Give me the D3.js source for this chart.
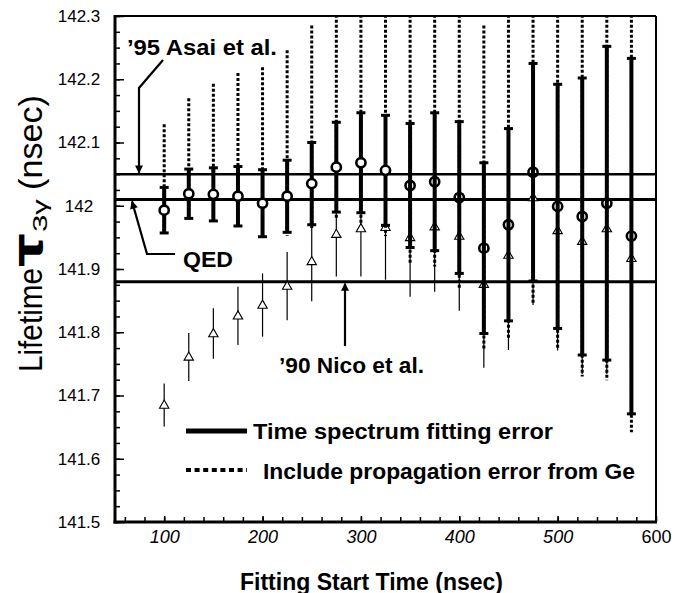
<!DOCTYPE html>
<html>
<head>
<meta charset="utf-8">
<script src="https://cdn.jsdelivr.net/npm/d3@7"></script>
<style>
  body { margin: 0; background: #fff; }
  text { font-family: "Liberation Sans", Arial, Helvetica, sans-serif; fill: #000; }
  .note { font-weight: bold; font-size: 22px; }
  .tick line { stroke: #000; stroke-width: 1.5px; }
  .domain { display: none; }
</style>
</head>
<body>
<svg width="689" height="593"></svg>
<script>
// fitting start times (nsec)
var starts = [100, 125, 150, 175, 200, 225, 250, 275, 300, 325, 350, 375, 400, 425, 450, 475, 500, 525, 550, 575];
// fitted lifetime (open circles) and time spectrum fitting error
var tau = [141.993, 142.019, 142.018, 142.015, 142.004, 142.015, 142.035, 142.061, 142.068, 142.056,
           142.032, 142.038, 142.013, 141.933, 141.970, 142.053, 141.999, 141.983, 142.004, 141.952];
var fitErr = [0.036, 0.039, 0.042, 0.047, 0.053, 0.057, 0.065, 0.071, 0.079, 0.087,
              0.098, 0.109, 0.120, 0.135, 0.152, 0.172, 0.193, 0.219, 0.248, 0.281];
// range including propagation error from Ge (dotted)
var geHigh = [142.129, 142.170, 142.193, 142.210, 142.219, 142.246, 142.285, 142.31, 142.31, 142.31,
              142.31, 142.31, 142.31, 142.285, 142.31, 142.31, 142.31, 142.31, 142.31, 142.31];
var geLow = [141.957, 141.980, 141.976, 141.968, 141.951, 141.952, 141.965, 141.978, 141.973, 141.952,
             141.910, 141.904, 141.867, 141.772, 141.789, 141.844, 141.773, 141.730, 141.724, 141.642];
// open triangles with thin error bars
var triVal = [141.685, 141.761, 141.798, 141.826, 141.843, 141.873, 141.912, 141.955, 141.964, 141.966,
              141.950, 141.967, 141.952, 141.876, 141.922, 142.013, 141.961, 141.944, 141.964, 141.917];
var triErr = [0.034, 0.038, 0.040, 0.046, 0.050, 0.054, 0.063, 0.067, 0.076, 0.083,
              0.094, 0.103, 0.118, 0.132, 0.150, 0.170, 0.190, 0.210, 0.230, 0.250];
// reference values: '95 Asai, QED, '90 Nico
var refValues = [142.05, 142.01, 141.88];
var xTickLabels = [100, 200, 300, 400, 500, 600];
var yTickLabels = [141.5, 141.6, 141.7, 141.8, 141.9, 142, 142.1, 142.2, 142.3];

var svg = d3.select('svg');
var pL = 115, pR = 656, pT = 16, pB = 522;

var x = d3.scaleLinear().domain([50, 600]).range([pL, pR]);
var y = d3.scaleLinear().domain([141.5, 142.3]).range([pB, pT]);

var data = starts.map(function (s, i) {
  return { start: s, tau: tau[i], fit: fitErr[i], hi: geHigh[i], lo: geLow[i],
           tri: triVal[i], triErr: triErr[i] };
});

var defs = svg.append('defs');
defs.append('clipPath').attr('id', 'plot')
  .append('rect').attr('x', pL).attr('y', pT)
  .attr('width', pR - pL).attr('height', pB - pT);
defs.append('marker').attr('id', 'arrow')
    .attr('viewBox', '0 0 10 10').attr('refX', 9).attr('refY', 5)
    .attr('markerWidth', 9).attr('markerHeight', 8)
    .attr('markerUnits', 'userSpaceOnUse').attr('orient', 'auto')
  .append('path').attr('d', 'M0,0L10,5L0,10Z').attr('fill', '#000');

// reference lines
svg.append('g').selectAll('line').data(refValues).enter().append('line')
    .attr('x1', pL).attr('x2', pR)
    .attr('y1', function (d) { return y(d); }).attr('y2', function (d) { return y(d); })
    .attr('stroke', '#000')
    .attr('stroke-width', function (d, i) { return i === 0 ? 2.5 : 3; });

var marks = svg.append('g').attr('clip-path', 'url(#plot)');

// triangles: thin bars then symbols
marks.selectAll('.tbar').data(data).enter().append('line')
    .attr('class', 'tbar')
    .attr('x1', function (d) { return x(d.start); }).attr('x2', function (d) { return x(d.start); })
    .attr('y1', function (d) { return y(d.tri + d.triErr); })
    .attr('y2', function (d) { return y(d.tri - d.triErr); })
    .attr('stroke', '#000').attr('stroke-width', 1.2);

var tri = d3.symbol().type(d3.symbolTriangle).size(38);
marks.selectAll('.tri').data(data).enter().append('path')
    .attr('class', 'tri')
    .attr('transform', function (d) { return 'translate(' + x(d.start) + ',' + (y(d.tri) + 0.5) + ')'; })
    .attr('d', tri)
    .attr('fill', '#fff').attr('stroke', '#000').attr('stroke-width', 1.1);

// dotted: including Ge propagation error
marks.selectAll('.gebar').data(data).enter().append('line')
    .attr('class', 'gebar')
    .attr('x1', function (d) { return x(d.start); }).attr('x2', function (d) { return x(d.start); })
    .attr('y1', function (d) { return y(d.hi); })
    .attr('y2', function (d) { return y(d.lo); })
    .attr('stroke', '#000').attr('stroke-width', 3).attr('stroke-dasharray', '3,2');

// solid: fitting error
marks.selectAll('.fbar').data(data).enter().append('line')
    .attr('class', 'fbar')
    .attr('x1', function (d) { return x(d.start); }).attr('x2', function (d) { return x(d.start); })
    .attr('y1', function (d) { return y(d.tau + d.fit); })
    .attr('y2', function (d) { return y(d.tau - d.fit); })
    .attr('stroke', '#000').attr('stroke-width', 4);

['hiCap', 'loCap'].forEach(function (k, j) {
  marks.selectAll('.' + k).data(data).enter().append('line')
      .attr('class', k)
      .attr('x1', function (d) { return x(d.start) - 4.5; })
      .attr('x2', function (d) { return x(d.start) + 4.5; })
      .attr('y1', function (d) { return y(j === 0 ? d.tau + d.fit : d.tau - d.fit); })
      .attr('y2', function (d) { return y(j === 0 ? d.tau + d.fit : d.tau - d.fit); })
      .attr('stroke', '#000').attr('stroke-width', 3);
});

marks.selectAll('.pt').data(data).enter().append('circle')
    .attr('class', 'pt')
    .attr('cx', function (d) { return x(d.start); })
    .attr('cy', function (d) { return y(d.tau); })
    .attr('r', 4.6)
    .attr('fill', function (d) { return d.start < 350 ? '#fff' : 'none'; })
    .attr('stroke', '#000').attr('stroke-width', 2.6);

// frame
svg.append('line').attr('x1', pL).attr('x2', pR).attr('y1', pT).attr('y2', pT)
   .attr('stroke', '#000').attr('stroke-width', 2);
svg.append('line').attr('x1', pR).attr('x2', pR).attr('y1', pT).attr('y2', pB)
   .attr('stroke', '#000').attr('stroke-width', 2);
svg.append('line').attr('x1', pL).attr('x2', pL).attr('y1', pT - 1).attr('y2', pB + 1.5)
   .attr('stroke', '#000').attr('stroke-width', 3);
svg.append('line').attr('x1', pL - 1.5).attr('x2', pR + 1).attr('y1', pB).attr('y2', pB)
   .attr('stroke', '#000').attr('stroke-width', 3);

// y axis
svg.append('g').attr('transform', 'translate(' + pL + ',0)')
  .call(d3.axisLeft(y).tickValues(d3.range(141.5, 142.3001, 0.025)).tickSize(-5).tickFormat(''));
var yAx = svg.append('g').attr('transform', 'translate(' + pL + ',0)')
  .call(d3.axisLeft(y).tickValues(yTickLabels).tickSize(-9).tickPadding(36)
        .tickFormat(function (d) { return String(d); }));
yAx.selectAll('text').attr('text-anchor', 'middle')
  .style('font-size', '17px').style('font-family', '"Liberation Sans", Arial, sans-serif');

// x axis
svg.append('g').attr('transform', 'translate(0,' + pB + ')')
  .call(d3.axisBottom(x).tickValues(d3.range(60, 600, 20)).tickSize(-5).tickFormat(''));
var xAx = svg.append('g').attr('transform', 'translate(0,' + pB + ')')
  .call(d3.axisBottom(x).tickValues(xTickLabels).tickSize(-6).tickPadding(8)
        .tickFormat(function (d) { return String(d); }));
xAx.selectAll('text')
  .style('font-size', '18px').style('font-family', '"Liberation Sans", Arial, sans-serif')
  .style('font-style', function (d) { return d < 600 ? 'italic' : 'normal'; });

// annotations
var ann = svg.append('g');
ann.append('text').attr('class', 'note').attr('x', 127).attr('y', 55)
   .attr('textLength', 150).attr('lengthAdjust', 'spacingAndGlyphs').text('\u201995 Asai et al.');
ann.append('path').attr('d', 'M163,60L139,88L139,' + (y(refValues[0]) - 1.5))
   .attr('fill', 'none').attr('stroke', '#000').attr('stroke-width', 2.2).attr('marker-end', 'url(#arrow)');

ann.append('text').attr('class', 'note').attr('x', 183).attr('y', 267)
   .attr('textLength', 50).attr('lengthAdjust', 'spacingAndGlyphs').text('QED');
ann.append('path').attr('d', 'M175,254L147,254L132,' + (y(refValues[1]) + 2))
   .attr('fill', 'none').attr('stroke', '#000').attr('stroke-width', 2.2).attr('marker-end', 'url(#arrow)');

ann.append('text').attr('class', 'note').attr('x', 279).attr('y', 373)
   .attr('textLength', 145).attr('lengthAdjust', 'spacingAndGlyphs').text('\u201990 Nico et al.');
ann.append('path').attr('d', 'M345,346L345,' + (y(refValues[2]) + 2))
   .attr('fill', 'none').attr('stroke', '#000').attr('stroke-width', 2.2).attr('marker-end', 'url(#arrow)');

// legend
ann.append('line').attr('x1', 186).attr('x2', 247).attr('y1', 431).attr('y2', 431)
   .attr('stroke', '#000').attr('stroke-width', 5);
ann.append('text').attr('class', 'note').attr('x', 253).attr('y', 439)
   .attr('textLength', 300).attr('lengthAdjust', 'spacingAndGlyphs').text('Time spectrum fitting error');
ann.append('line').attr('x1', 186).attr('x2', 247).attr('y1', 470).attr('y2', 470)
   .attr('stroke', '#000').attr('stroke-width', 4).attr('stroke-dasharray', '5,3.6');
ann.append('text').attr('class', 'note').attr('x', 263).attr('y', 479)
   .attr('textLength', 372).attr('lengthAdjust', 'spacingAndGlyphs').text('Include propagation error from Ge');

// axis titles
svg.append('text').attr('x', 240).attr('y', 590)
   .style('font-weight', 'bold').style('font-size', '23px')
   .attr('textLength', 263).attr('lengthAdjust', 'spacingAndGlyphs').text('Fitting Start Time (nsec)');

var yl = svg.append('g').attr('transform', 'translate(42,0) rotate(-90)');
yl.append('text').attr('x', -372).attr('y', 0).style('font-size', '33px')
  .attr('textLength', 104).attr('lengthAdjust', 'spacingAndGlyphs').text('Lifetime');
yl.append('text').attr('x', -267).attr('y', 0)
  .style('font-size', '42px').style('font-weight', 'bold').style('font-family', '"DejaVu Sans", sans-serif')
  .attr('textLength', 34).attr('lengthAdjust', 'spacingAndGlyphs').text('\u03c4');
yl.append('text').attr('x', -232).attr('y', 5).style('font-size', '21px')
  .attr('textLength', 33).attr('lengthAdjust', 'spacingAndGlyphs').text('3\u03b3');
yl.append('text').attr('x', -190).attr('y', 0).style('font-size', '33px')
  .attr('textLength', 95).attr('lengthAdjust', 'spacingAndGlyphs').text('(nsec)');
</script>
</body>
</html>
